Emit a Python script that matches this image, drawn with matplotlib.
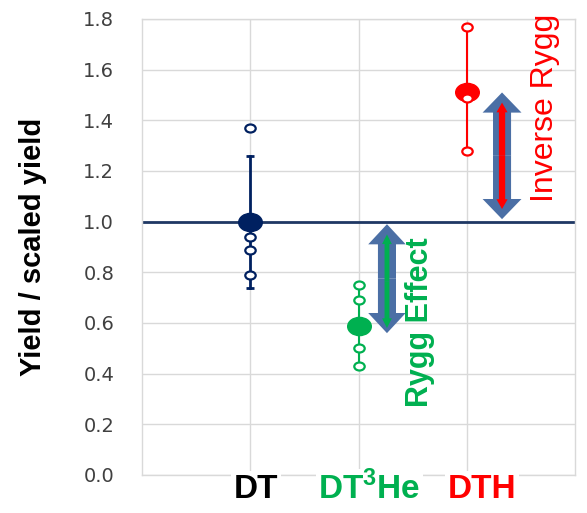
import numpy as np
import matplotlib
matplotlib.use("Agg")
import matplotlib.pyplot as plt
from matplotlib.path import Path
from matplotlib.transforms import Affine2D, offset_copy
from matplotlib.patches import FancyArrowPatch, ArrowStyle

plt.rcParams['font.family'] = ['Liberation Sans', 'DejaVu Sans']
plt.rcParams['mathtext.fontset'] = 'custom'
plt.rcParams['mathtext.rm'] = 'Liberation Sans'
plt.rcParams['mathtext.bf'] = 'Liberation Sans:bold'

# data
categories = ['DT', r'DT$^{\mathbf{3}}$He', 'DTH']
mean_yield = [1.0, 0.59, 1.51]
shot_yields = [
    [1.37, 0.94, 0.89, 0.79],
    [0.75, 0.69, 0.50, 0.43],
    [1.77, 1.49, 1.28],
]
bar_low = [0.74, 0.43, 1.28]
bar_high = [1.26, 0.75, 1.77]
rygg_span = [0.99, 0.56]
inverse_span = [1.51, 1.01]
rygg_inner = [0.95, 0.58]
inverse_inner = [1.47, 1.05]

colors = ['#002060', '#00B050', '#FF0000']
arrow_blue = '#4B6FA5'

ellipse = Path.unit_circle().transformed(Affine2D().scale(1.3, 1.0))

fig = plt.figure(figsize=(5.87, 5.13), dpi=100)
ax = fig.add_axes([142 / 587, 38 / 513, 433 / 587, 456 / 513])

x = np.arange(1, len(categories) + 1)
for i in range(len(categories)):
    ax.plot([x[i], x[i]], [bar_low[i], bar_high[i]], color=colors[i],
            lw=2 if i == 0 else 1.5, zorder=3)
    if i == 0:
        ax.plot([x[i]], [bar_high[i]], marker='_', ms=6, mew=2, color=colors[i], zorder=3)
        ax.plot([x[i]], [bar_low[i]], marker='_', ms=6, mew=2, color=colors[i], zorder=3)
    ax.plot([x[i]], [mean_yield[i]], marker=ellipse, ms=17, color=colors[i],
            ls='none', zorder=4)
    ax.plot([x[i]] * len(shot_yields[i]), shot_yields[i], marker=ellipse, ms=7.5,
            mfc='white', mec=colors[i], mew=1.6, ls='none', zorder=5)

ax.axhline(1.0, color='#1F3864', lw=2, zorder=2)


def double_arrow(xpos, span, color, head_len, head_w, tail_w):
    mid = (span[0] + span[1]) / 2
    style = ArrowStyle('simple', head_length=head_len, head_width=head_w,
                       tail_width=tail_w)
    for end in span:
        ax.add_patch(FancyArrowPatch((xpos, mid), (xpos, end), arrowstyle=style,
                                     mutation_scale=1, color=color, lw=0,
                                     shrinkA=0, shrinkB=0, zorder=6))


double_arrow(2.263, rygg_span, arrow_blue, 14.5, 27, 13)
double_arrow(2.263, rygg_inner, '#00B050', 7, 7, 3.5)
double_arrow(3.326, inverse_span, arrow_blue, 14.5, 28, 13)
double_arrow(3.326, inverse_inner, '#FF0000', 7, 8, 4.5)

ax.text(2.57, 0.605, 'Rygg Effect', rotation=90, ha='center', va='center',
        color='#00B050', fontsize=22, fontweight='bold', zorder=7)
ax.text(3.72, 1.45, 'Inverse Rygg', rotation=90, ha='center', va='center',
        color='#FF0000', fontsize=23, zorder=7)

label_shift = [6, 11, 15]
for i, lab in enumerate(categories):
    tr = offset_copy(ax.get_xaxis_transform(), fig=fig, x=label_shift[i] / 100 * 72,
                     y=-14 / 100 * 72, units='points')
    ax.text(x[i], 0, lab, transform=tr, ha='center', va='center',
            color=['black', colors[1], colors[2]][i],
            fontsize=24, fontweight='bold', clip_on=False, zorder=8,
            bbox=dict(facecolor='white', edgecolor='none', pad=2))

ax.set_xlim(0, 4)
ax.set_ylim(0, 1.8)
ax.set_yticks(np.arange(0, 1.81, 0.2))
ax.set_yticklabels([f'{v:.1f}' for v in np.arange(0, 1.81, 0.2)],
                   family='DejaVu Sans', fontsize=14, color='#404040')
ax.set_xticks([1, 2, 3])
ax.set_xticklabels([])
ax.tick_params(length=0, pad=20)
ax.grid(True, color='#D9D9D9', lw=1)
ax.set_axisbelow(True)
for s in ax.spines.values():
    s.set_color('#D9D9D9')
    s.set_linewidth(1)
ax.set_ylabel('Yield / scaled yield', fontsize=21, fontweight='bold', labelpad=26)

fig.savefig('out.png', dpi=100)
